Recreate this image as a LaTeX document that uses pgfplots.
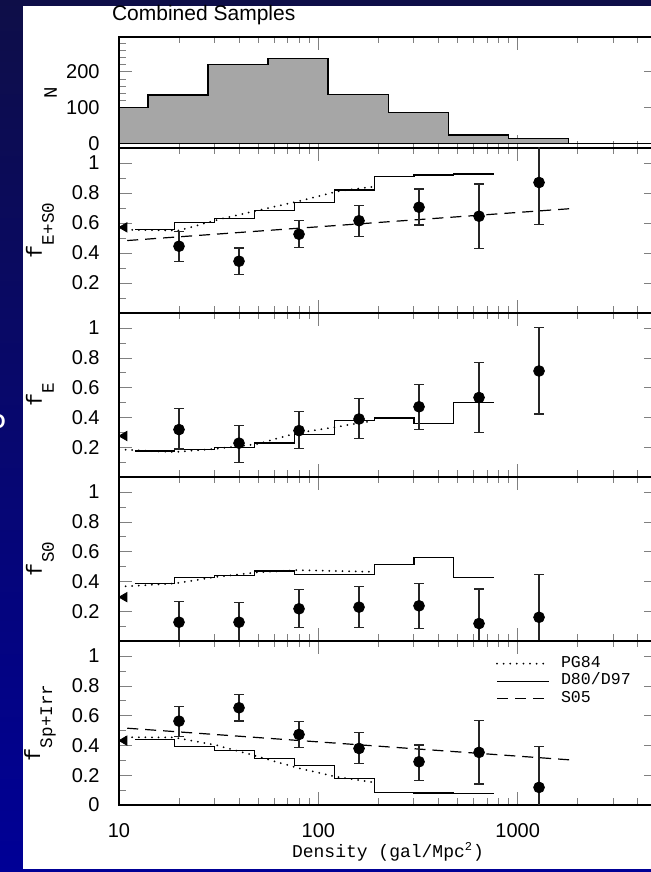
\documentclass[border=0pt]{standalone}
\usepackage{fontspec}
\setmainfont{Liberation Sans}
\newfontfamily\cour{Liberation Mono}
\usepackage{pgfplots}
\pgfplotsset{compat=1.18}

\definecolor{bgtop}{RGB}{14,14,72}
\definecolor{bgbot}{RGB}{0,0,150}
\definecolor{histgray}{RGB}{166,166,166}

% axis label: f with a low subscript
\newcommand\flab[1]{{\cour\fontsize{11}{12}\selectfont f\raisebox{-6pt}{\fontsize{8.8}{10}\selectfont #1}}}

\pgfplotsset{
  ptsplot/.style={only marks, mark=*, mark size=2.7pt, black, forget plot,
    error bars/.cd, y dir=both, y explicit,
    error bar style={line width=0.6pt, black!85},
    error mark options={rotate=90, mark size=2.3pt, line width=0.6pt, black!85}},
  triplot/.style={only marks, mark=triangle*, mark size=2.65pt, black, forget plot,
    mark options={xshift=2.65pt, rotate=90}},
  pgline/.style={black, line width=1pt, line cap=round, dash pattern=on 0pt off 3.3pt},
  dline/.style={black, line width=0.6pt, const plot mark left},
  sline/.style={black, line width=0.6pt, dash pattern=on 5.5pt off 3.5pt},
  tick align=inside,
  major tick length=6.5pt, minor tick length=3.25pt,
  axis line style={line width=0.6pt},
  ticklabel style={font=\fontsize{10}{12}\selectfont},
  yticklabel style={inner sep=0pt, xshift=-9.5pt, anchor=east},
  xticklabel style={inner sep=0pt, yshift=-9pt, anchor=north},
}
\pgfkeys{/pgf/number format/.cd, assume math mode=true, 1000 sep={}}

\begin{document}
\begin{tikzpicture}
\shade[top color=bgtop, bottom color=bgbot] (0pt,0pt) rectangle (325.5pt,436pt);
\fill[white] (11.5pt,1.5pt) rectangle (330pt,433pt);
\node[white, font=\bfseries\fontsize{10}{12}\selectfont] at (-1pt,225pt) {O};
\node[anchor=base west, font=\fontsize{10.5}{12}\selectfont] at (52.5pt,425.6pt) {Combined Samples};

% N histogram
\begin{axis}[anchor=south west, scale only axis, width=269pt, height=55.5pt,
  at={(59.5pt,362pt)},
  xmode=log, xmin=10, xmax=5000, xticklabels={},
  ymin=-12, ymax=296, ytick={0,100,200},
  minor ytick={20,40,60,80,120,140,160,180,220,240,260,280},
  ylabel={{\cour\fontsize{9.5}{10}\selectfont N}},
  ylabel style={at={(axis description cs:-0.127,0.5)}, anchor=center}]
\addplot[const plot mark left, fill=histgray, draw=black, line width=0.7pt]
  coordinates {(10,101) (14,135) (28,220) (56,236) (112,137) (225,87) (450,24) (900,15) (1800,15)} \closedcycle;
\addplot[black, line width=0.6pt] coordinates {(10,0) (5000,0)};
\end{axis}

% f E+S0
\begin{axis}[anchor=south west, scale only axis, width=269pt, height=82.5pt,
  at={(59.5pt,279.5pt)},
  xmode=log, xmin=10, xmax=5000, xticklabels={},
  ymin=0, ymax=1.1, ytick={0.2,0.4,0.6,0.8,1}, minor ytick={0,0.1,0.3,0.5,0.7,0.9},
  ylabel={\flab{E+S0}},
  ylabel style={at={(axis description cs:-0.147,0.5)}, anchor=center}]
\addplot[pgline] coordinates {(10,0.555) (20,0.55) (32,0.625) (49,0.682) (78,0.742) (129,0.815) (189,0.842)};
\addplot[dline] coordinates {(12,0.558) (19.05,0.602) (30.2,0.63) (47.9,0.685) (75.9,0.735) (120.2,0.82) (190.5,0.91) (302,0.92) (478.6,0.927) (758.6,0.927)};
\addplot[sline] coordinates {(11,0.483) (1815,0.695)};
\addplot[triplot] coordinates {(10,0.571)};
\addplot[ptsplot] table[x=x, y=y, y error plus=ep, y error minus=em, row sep=\\] {
x y ep em\\
20 0.445 0.10 0.10\\
40 0.345 0.088 0.09\\
80 0.525 0.09 0.09\\
160 0.615 0.10 0.105\\
320 0.705 0.122 0.118\\
640 0.645 0.215 0.213\\
1280 0.870 0.25 0.28\\
};
\end{axis}

% f E
\begin{axis}[anchor=south west, scale only axis, width=269pt, height=82pt,
  at={(59.5pt,197.5pt)},
  xmode=log, xmin=10, xmax=5000, xticklabels={},
  ymin=0, ymax=1.1, ytick={0.2,0.4,0.6,0.8,1}, minor ytick={0,0.1,0.3,0.5,0.7,0.9},
  ylabel={\flab{E}},
  ylabel style={at={(axis description cs:-0.147,0.5)}, anchor=center}]
\addplot[pgline] coordinates {(10,0.185) (19,0.167) (31,0.19) (49,0.22) (78,0.295) (122,0.335) (185,0.375)};
\addplot[dline] coordinates {(12,0.175) (19.05,0.185) (30.2,0.20) (47.9,0.228) (75.9,0.284) (120.2,0.378) (190.5,0.396) (302,0.36) (478.6,0.50) (758.6,0.50)};
\addplot[triplot] coordinates {(10,0.275)};
\addplot[ptsplot] table[x=x, y=y, y error plus=ep, y error minus=em, row sep=\\] {
x y ep em\\
20 0.318 0.14 0.13\\
40 0.227 0.117 0.131\\
80 0.311 0.127 0.122\\
160 0.389 0.138 0.129\\
320 0.471 0.151 0.153\\
640 0.533 0.234 0.233\\
1280 0.711 0.289 0.289\\
};
\end{axis}

% f S0
\begin{axis}[anchor=south west, scale only axis, width=269pt, height=82pt,
  at={(59.5pt,115.5pt)},
  xmode=log, xmin=10, xmax=5000, xticklabels={},
  ymin=0, ymax=1.1, ytick={0.2,0.4,0.6,0.8,1}, minor ytick={0,0.1,0.3,0.5,0.7,0.9},
  ylabel={\flab{S0}},
  ylabel style={at={(axis description cs:-0.147,0.5)}, anchor=center}]
\addplot[pgline] coordinates {(10,0.364) (19,0.386) (31,0.43) (49,0.46) (78,0.475) (122,0.47) (185,0.464)};
\addplot[dline] coordinates {(12,0.386) (19.05,0.424) (30.2,0.44) (47.9,0.47) (75.9,0.448) (120.2,0.446) (190.5,0.514) (302,0.558) (478.6,0.426) (758.6,0.426)};
\addplot[triplot] coordinates {(10,0.294)};
\addplot[ptsplot] table[x=x, y=y, y error plus=ep, y error minus=em, row sep=\\] {
x y ep em\\
20 0.126 0.139 0.2\\
40 0.126 0.132 0.2\\
80 0.216 0.131 0.126\\
160 0.227 0.137 0.137\\
320 0.236 0.150 0.152\\
640 0.117 0.232 0.2\\
1280 0.159 0.287 0.2\\
};
\end{axis}

% f Sp+Irr
\begin{axis}[anchor=south west, scale only axis, width=269pt, height=82pt,
  at={(59.5pt,33.5pt)},
  xmode=log, xmin=10, xmax=5000, log ticks with fixed point,
  ymin=0, ymax=1.1, ytick={0,0.2,0.4,0.6,0.8,1}, minor ytick={0.1,0.3,0.5,0.7,0.9},
  ylabel={\flab{Sp+Irr}},
  ylabel style={at={(axis description cs:-0.147,0.5)}, anchor=center},
  xlabel={{\cour\fontsize{9}{10}\selectfont Density (gal/Mpc\textsuperscript{2})}},
  xlabel style={at={(axis description cs:0.5,0)}, anchor=base, yshift=-26.5pt},
  legend style={draw=none, fill=none, at={(axis description cs:0.700,0.918)},
    anchor=north west, inner sep=0pt, row sep=0pt, column sep=5.5pt,
    font=\cour\fontsize{8.3}{9}\selectfont,
    nodes={inner sep=0pt, text height=6.2pt, text depth=2.6pt}},
  legend cell align=left,
  legend image code/.code={\draw[#1] (0pt,0pt) -- (26pt,0pt);}]
\addplot[pgline] coordinates {(10,0.455) (19,0.453) (31,0.40) (49,0.328) (78,0.25) (122,0.19) (185,0.154)};
\addlegendentry{PG84}
\addplot[dline] coordinates {(12,0.44) (19.05,0.395) (30.2,0.364) (47.9,0.3125) (75.9,0.263) (120.2,0.179) (190.5,0.085) (302,0.08) (478.6,0.076) (758.6,0.076)};
\addlegendentry{D80/D97}
\addplot[sline] coordinates {(11,0.515) (1815,0.303)};
\addlegendentry{S05}
\addplot[triplot] coordinates {(10,0.432)};
\addplot[ptsplot] table[x=x, y=y, y error plus=ep, y error minus=em, row sep=\\] {
x y ep em\\
20 0.5625 0.10 0.105\\
40 0.652 0.089 0.089\\
80 0.473 0.089 0.089\\
160 0.379 0.105 0.100\\
320 0.290 0.112 0.123\\
640 0.353 0.212 0.212\\
1280 0.118 0.277 0.2\\
};
\end{axis}

\pgfresetboundingbox
\useasboundingbox (0pt,0pt) rectangle (325.5pt,436pt);
\end{tikzpicture}
\end{document}
